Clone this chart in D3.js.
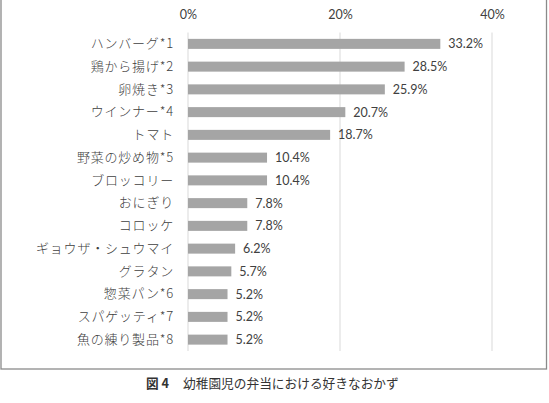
<!DOCTYPE html>
<html><head><meta charset="utf-8">
<script src="https://cdn.jsdelivr.net/npm/d3@7"></script>
<style>body{margin:0;background:#fff}svg{display:block}</style>
</head><body>
<script>
const categories = ["ハンバーグ*1","鶏から揚げ*2","卵焼き*3","ウインナー*4","トマト","野菜の炒め物*5","ブロッコリー","おにぎり","コロッケ","ギョウザ・シュウマイ","グラタン","惣菜パン*6","スパゲッティ*7","魚の練り製品*8"];
const values = [33.2,28.5,25.9,20.7,18.7,10.4,10.4,7.8,7.8,6.2,5.7,5.2,5.2,5.2];
const tickValues = [0,20,40];
const caption = ["図 4","幼稚園児の弁当における好きなおかず"];

const W=549,H=403;
const svg=d3.select("body").append("svg").attr("width",W).attr("height",H);
svg.append("rect").attr("x",1).attr("y",-2).attr("width",545.5).attr("height",371)
  .attr("fill","#fff").attr("stroke","#8a8a8a").attr("stroke-width",1.3);

const x=d3.scaleLinear().domain([0,40]).range([188,492]);
const y=d3.scaleBand().domain(categories).range([32.5,351]).paddingInner(0.56).paddingOuter(0.28);

svg.append("g").selectAll("line").data(tickValues).join("line")
  .attr("x1",d=>x(d)).attr("x2",d=>x(d)).attr("y1",32.5).attr("y2",351)
  .attr("stroke","#d9d9d9").attr("stroke-width",1);

const ax=svg.append("g").attr("transform","translate(0,19)")
  .call(d3.axisTop(x).tickValues(tickValues).tickFormat(d=>d+"%").tickSize(0).tickPadding(0));
ax.select(".domain").remove();
ax.selectAll("text").attr("font-family","Lato, 'Open Sans', sans-serif").attr("font-size",12.5).attr("fill","#404040");

svg.append("g").selectAll("rect").data(values).join("rect")
  .attr("x",x(0)).attr("y",(d,i)=>y(categories[i])).attr("width",d=>x(d)-x(0)).attr("height",y.bandwidth())
  .attr("fill","#a5a5a5");

const ay=svg.append("g").attr("transform",`translate(${x(0)-14},0)`)
  .call(d3.axisLeft(y).tickSize(0).tickPadding(0));
ay.select(".domain").remove();
ay.selectAll("text").attr("font-family","'Noto Sans CJK JP', sans-serif").attr("font-size",13).attr("fill","#404040").attr("font-weight",300).attr("letter-spacing","0.8px");

svg.append("g").selectAll("text").data(values).join("text")
  .attr("x",d=>x(d)+8).attr("y",(d,i)=>y(categories[i])+y.bandwidth()/2).attr("dy","0.35em")
  .attr("font-family","Lato, 'Open Sans', sans-serif").attr("font-size",12.5).attr("fill","#404040")
  .text(d=>d.toFixed(1)+"%");

const cap=svg.append("text").attr("x",146).attr("y",388).attr("font-family","'Noto Sans CJK JP', sans-serif").attr("font-size",12.7).attr("fill","#333");
cap.append("tspan").attr("font-weight","bold").text(caption[0]);
cap.append("tspan").attr("dx",14).text(caption[1]);
</script>
</body></html>
